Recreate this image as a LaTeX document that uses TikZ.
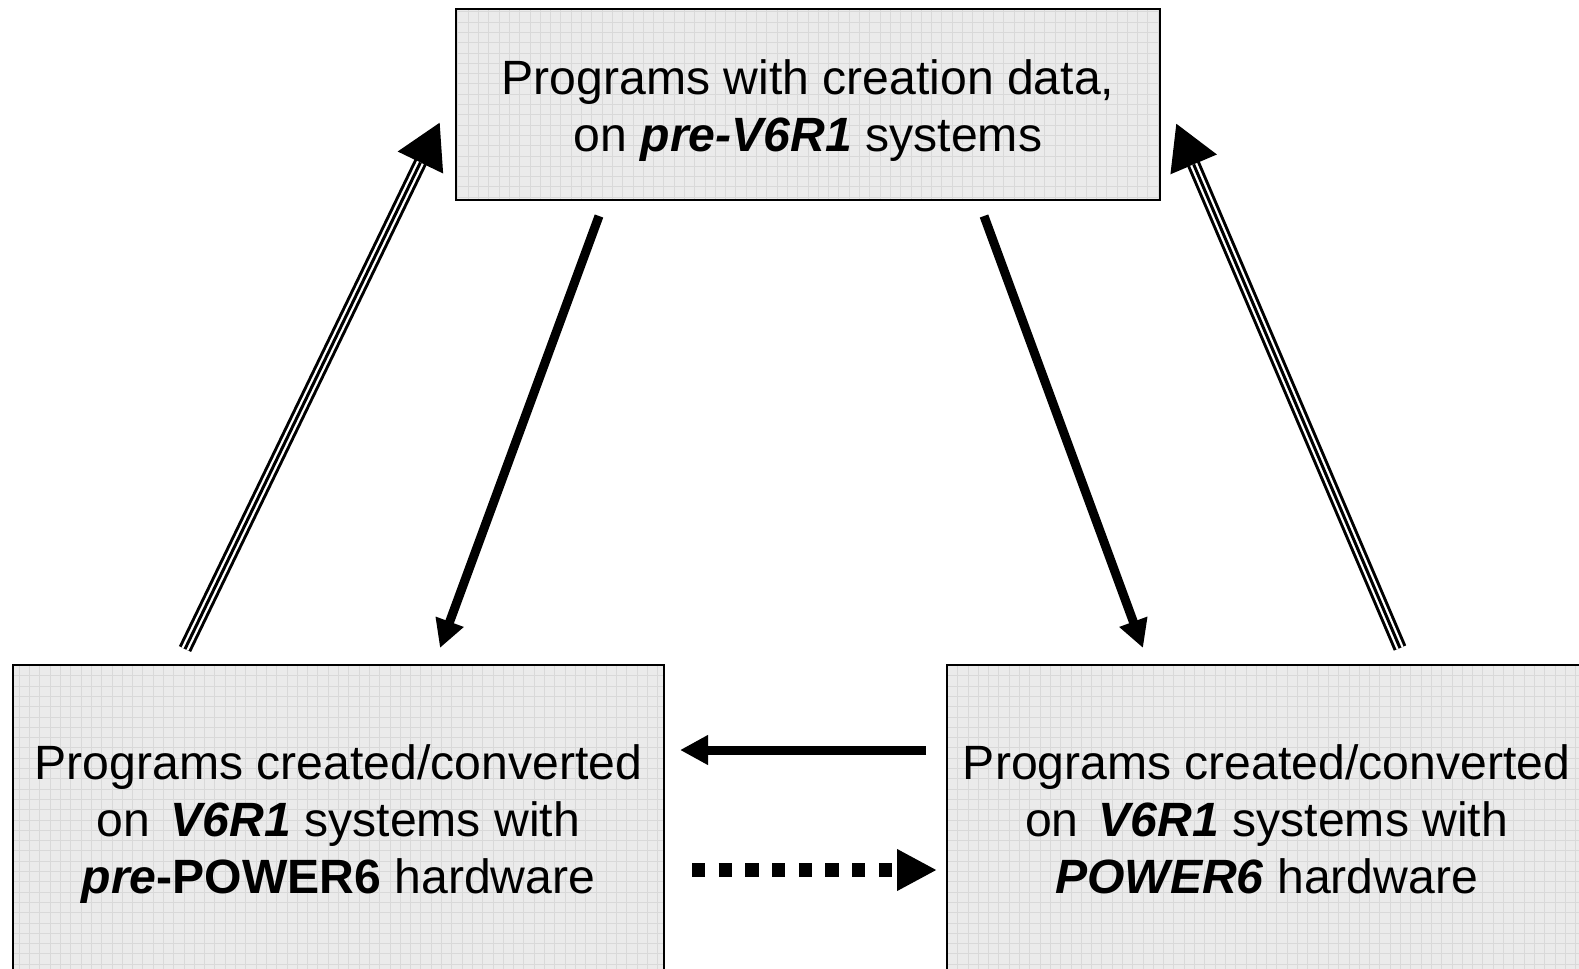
\documentclass[tikz,border=0pt]{standalone}
\usepackage{fontspec}
\setmainfont{Liberation Sans}
\usetikzlibrary{arrows.meta}

\begin{document}
\begin{tikzpicture}[x=0.02cm, y=-0.02cm,
    box/.style={draw=black, line width=1.2pt, fill=black!8, inner sep=0pt,
        path picture={\draw[black!15, line width=0.5pt]
            (path picture bounding box.south west) grid[step=0.206cm]
            (path picture bounding box.north east);}},
    boxtext/.style={align=center, inner sep=0pt, font=\fontsize{27.4}{32.4}\selectfont},
    fwdarrow/.style={line width=0.18cm, -{Triangle[length=0.56cm, width=0.56cm]}},
    dotarrow/.style={line width=0.266cm, dash pattern=on 0.266cm off 0.268cm,
        -{Triangle[length=0.8cm, width=0.78cm]}},
    triplearrow/.style={line width=0.27cm, -{Triangle[length=0.9cm, width=0.94cm]},
        postaction={draw=white, line width=0.15cm, shorten >=0.9cm, -},
        postaction={draw=black, line width=0.06cm, shorten >=0.9cm, -}}
]
    % page
    \clip (0,0) rectangle (1579,968);
    \fill[white] (0,0) rectangle (1579,968);

    % the three boxes
    \node[box, minimum width=14.08cm, minimum height=3.82cm] (pre) at (808,104.5) {};
    \node[box, minimum width=13.02cm, minimum height=6.2cm] (old) at (338.5,820) {};
    \node[box, minimum width=12.8cm, minimum height=6.2cm] (new) at (1266.6,820) {};

    % box texts
    \node[boxtext] (pretext) at (808,111)
        {Programs with creation data,\\ on \textbf{\textit{pre-V6R1}} systems};
    \node[boxtext] (oldtext) at (338.5,824)
        {Programs created/converted\\ on\hspace{0.42em}\textbf{\textit{V6R1}} systems with\\
         \textbf{\textit{pre}-POWER6} hardware};
    \node[boxtext] (newtext) at (1266.6,819)
        {Programs created/converted\\ on\hspace{0.42em}\textbf{\textit{V6R1}} systems with\\
         \textbf{\textit{POWER6}} hardware};

    % arrow ends
    \coordinate (oldup) at (185,649);
    \coordinate (pretipl) at (440,122);
    \coordinate (newup) at (1400,648);
    \coordinate (pretipr) at (1176,123);
    \coordinate (predownl) at (599,216);
    \coordinate (oldtip) at (440,648);
    \coordinate (predownr) at (984,216);
    \coordinate (newtip) at (1143,648);
    \coordinate (newleft) at (926,750);
    \coordinate (oldright) at (680,750);
    \coordinate (olddot) at (692,870);
    \coordinate (newdot) at (937,870);

    % connectors
    \draw[triplearrow] (oldup) -- (pretipl);
    \draw[triplearrow] (newup) -- (pretipr);
    \draw[fwdarrow] (predownl) -- (oldtip);
    \draw[fwdarrow] (predownr) -- (newtip);
    \draw[fwdarrow] (newleft) -- (oldright);
    \draw[dotarrow] (olddot) -- (newdot);
\end{tikzpicture}
\end{document}
